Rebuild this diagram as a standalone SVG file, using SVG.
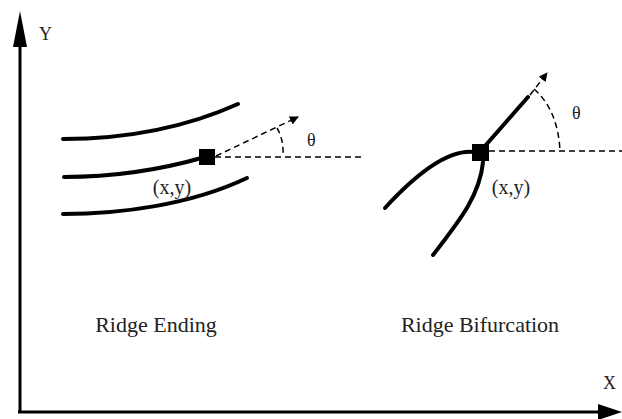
<svg xmlns="http://www.w3.org/2000/svg" width="622" height="419" viewBox="0 0 622 419">
<style>
.ridge{fill:none;stroke:#000;stroke-width:4;stroke-linecap:round}
.dash{fill:none;stroke:#000;stroke-width:1.5;stroke-dasharray:6,4}
.axis{fill:none;stroke:#000;stroke-width:3}
text{font-family:"Liberation Serif",serif;fill:#222}
.lbl{font-size:20px}
.cap{font-size:22px}
.th{font-size:18px}
</style>
<defs>
<marker id="da" viewBox="0 0 10 10" refX="9" refY="5" markerWidth="9" markerHeight="9" markerUnits="userSpaceOnUse" orient="auto"><path d="M0,0 L10,5 L0,10 z" fill="#000"/></marker>
</defs>
<g id="axes">
<line class="axis" x1="20" y1="413" x2="20" y2="40"/>
<path d="M20,11 L13,47 L27,47 z" fill="#000"/>
<line class="axis" x1="18" y1="412" x2="600" y2="412"/>
<path d="M622,412 L598,404 L598,420 z" fill="#000"/>
<text x="39" y="40" class="th" font-size="19">Y</text>
<text x="603" y="389" class="th" font-size="19">X</text>
</g>
<g id="ridge-ending">
<path class="ridge" d="M63,139 C120,139 180,130 238,104"/>
<path class="ridge" d="M64,177 C110,177 160,170 205,157"/>
<path class="ridge" d="M63,214 C120,214 190,205 247,178"/>
<rect x="199" y="149" width="16" height="16" fill="#000"/>
<text x="172" y="194" class="lbl" text-anchor="middle">(x,y)</text>
<text x="307" y="146" class="th">θ</text>
<text x="156" y="332" class="cap" text-anchor="middle">Ridge Ending</text>
</g>
<g id="ridge-bifurcation">
<path class="ridge" d="M485,146 L528,97"/>
<path class="ridge" d="M473,152 C450,150 420,170 385,208"/>
<path class="ridge" d="M483,162 C480,195 460,220 433,255"/>
<rect x="472" y="144" width="17" height="17" fill="#000"/>
<text x="511" y="194" class="lbl" text-anchor="middle">(x,y)</text>
<text x="572" y="119" class="th">θ</text>
<text x="480" y="332" class="cap" text-anchor="middle">Ridge Bifurcation</text>
</g>
<g id="connectors">
<path class="dash" d="M215,157 H362"/>
<path class="dash" d="M216,156 L298,117" marker-end="url(#da)"/>
<path class="dash" d="M277,128 Q284,140 283,157"/>
<path class="dash" d="M489,151 H622"/>
<path class="dash" d="M530,95 L547,73" marker-end="url(#da)"/>
<path class="dash" d="M534,89 Q558,110 560,151"/>
</g>
</svg>
